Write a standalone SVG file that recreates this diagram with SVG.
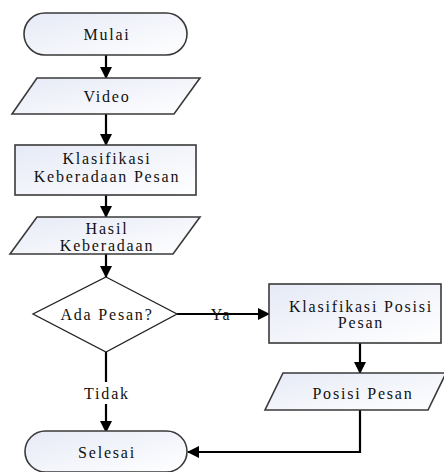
<svg xmlns="http://www.w3.org/2000/svg" width="444" height="472" viewBox="0 0 444 472">
<defs>
<linearGradient id="g" x1="0" y1="0" x2="1" y2="1">
<stop offset="0" stop-color="#e6eaf6"/>
<stop offset="1" stop-color="#ffffff"/>
</linearGradient>
<marker id="ah" markerWidth="12" markerHeight="12" refX="11" refY="6" orient="auto" markerUnits="userSpaceOnUse">
<path d="M0,0 L12,6 L0,12 Z" fill="#000"/>
</marker>
<style>
.s{fill:url(#g);stroke:#3a3a3a;stroke-width:1.6}
.d{fill:#fff;stroke:#222;stroke-width:1.3}
.t{font-family:"Liberation Serif","Times New Roman",serif;font-size:16px;letter-spacing:1.8px;text-anchor:middle;dominant-baseline:central;fill:#111}
.c{fill:none;stroke:#000;stroke-width:2.2}
</style>
</defs>
<g id="connectors">
<line class="c" x1="106" y1="55" x2="106" y2="78" marker-end="url(#ah)"/>
<line class="c" x1="106" y1="114" x2="106" y2="145" marker-end="url(#ah)"/>
<line class="c" x1="106" y1="195" x2="106" y2="217" marker-end="url(#ah)"/>
<line class="c" x1="106" y1="254" x2="106" y2="277" marker-end="url(#ah)"/>
<line class="c" x1="177" y1="314" x2="269" y2="314" stroke-width="1.6" marker-end="url(#ah)"/>
<line class="c" x1="106" y1="352" x2="106" y2="382"/>
<line class="c" x1="106" y1="404" x2="106" y2="432" marker-end="url(#ah)"/>
<line class="c" x1="360" y1="343" x2="360" y2="373" marker-end="url(#ah)"/>
<polyline class="c" points="360,410 360,452 188,452" marker-end="url(#ah)"/>
<text class="t" x="221" y="314">Ya</text>
<text class="t" x="107" y="393">Tidak</text>
</g>
<g id="mulai">
<rect class="s" x="24" y="13" width="163" height="42" rx="21" ry="21"/>
<text class="t" x="107" y="34">Mulai</text>
</g>
<g id="video">
<polygon class="s" points="37,78 200,78 174,114 12,114"/>
<text class="t" x="107" y="96">Video</text>
</g>
<g id="klasifikasi-keberadaan">
<rect class="s" x="15" y="145" width="181" height="50"/>
<text class="t" x="107" y="158">Klasifikasi</text>
<text class="t" x="107" y="176">Keberadaan Pesan</text>
</g>
<g id="hasil-keberadaan">
<polygon class="s" points="37,217 200,217 173,254 10,254"/>
<text class="t" x="107" y="228">Hasil</text>
<text class="t" x="107" y="245">Keberadaan</text>
</g>
<g id="ada-pesan">
<polygon class="d" points="106,277 177,314 106,352 33,314"/>
<text class="t" x="107" y="314">Ada Pesan?</text>
</g>
<g id="klasifikasi-posisi">
<rect class="s" x="269" y="284" width="172" height="59"/>
<text class="t" x="361" y="306">Klasifikasi Posisi</text>
<text class="t" x="361" y="322">Pesan</text>
</g>
<g id="posisi-pesan">
<polygon class="s" points="283,373 446,373 428,410 265,410"/>
<text class="t" x="363" y="393">Posisi Pesan</text>
</g>
<g id="selesai">
<rect class="s" x="25" y="431" width="162" height="41" rx="20.5" ry="20.5"/>
<text class="t" x="107" y="452">Selesai</text>
</g>
</svg>
